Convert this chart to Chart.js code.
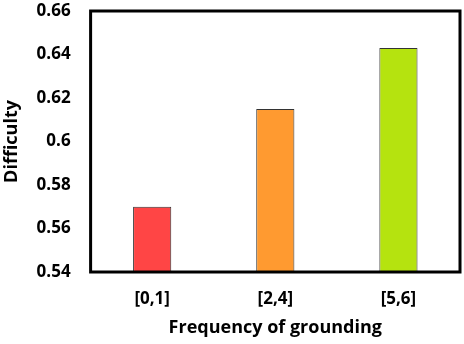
<!DOCTYPE html>
<html>
<head>
<meta charset="utf-8">
<script src="https://cdn.jsdelivr.net/npm/chart.js@4"></script>
<style>
  body { margin: 0; background: #fff; }
  #wrap { width: 464px; height: 344px; }
</style>
</head>
<body>
<div id="wrap"><canvas id="myChart" width="464" height="344"></canvas></div>
<script>
// data
const categories = ["[0,1]", "[2,4]", "[5,6]"];
const difficulty = [0.57, 0.615, 0.643];
const barColors = ["#FF4545", "#FF9A30", "#B5E30F"];

// box around the plot area
const frame = {
  id: "frame",
  afterDraw(chart) {
    const { ctx, chartArea } = chart;
    ctx.save();
    ctx.strokeStyle = "#000";
    ctx.lineWidth = 3;
    ctx.strokeRect(chartArea.left, chartArea.top, chartArea.right - chartArea.left, chartArea.bottom - chartArea.top);
    ctx.restore();
  }
};

const tickFont = { family: "'Open Sans', sans-serif", weight: "bold", size: 17 };
const titleFont = { family: "'Open Sans', sans-serif", weight: "bold", size: 18 };

const config = {
  type: "bar",
  data: {
    labels: categories,
    datasets: [{
      data: difficulty,
      backgroundColor: barColors,
      borderColor: "#333",
      borderWidth: 1,
      barPercentage: 0.31,
      categoryPercentage: 1
    }]
  },
  options: {
    responsive: false,
    animation: false,
    layout: { padding: { top: 11, right: 4, left: 0, bottom: 0 } },
    plugins: { legend: { display: false }, tooltip: { enabled: false } },
    scales: {
      x: {
        grid: { display: false, drawTicks: false },
        border: { display: false },
        ticks: { color: "#000", font: tickFont, padding: 17 },
        title: { display: true, text: "Frequency of grounding", color: "#000", font: titleFont, padding: { top: -9, bottom: 5 } }
      },
      y: {
        min: 0.54,
        max: 0.66,
        grid: { display: false, drawTicks: false },
        border: { display: false },
        afterFit: (scale) => { scale.paddingTop = 0; },
        ticks: {
          stepSize: 0.02,
          color: "#000",
          font: tickFont,
          padding: 20,
          callback: (v) => String(Number(v.toFixed(2)))
        },
        title: { display: true, text: "Difficulty", color: "#000", font: titleFont, padding: { top: 1, bottom: -6 } }
      }
    }
  },
  plugins: [frame]
};

const chart = document.getElementById("myChart");
const myChart = new Chart(chart, config);
</script>
</body>
</html>
